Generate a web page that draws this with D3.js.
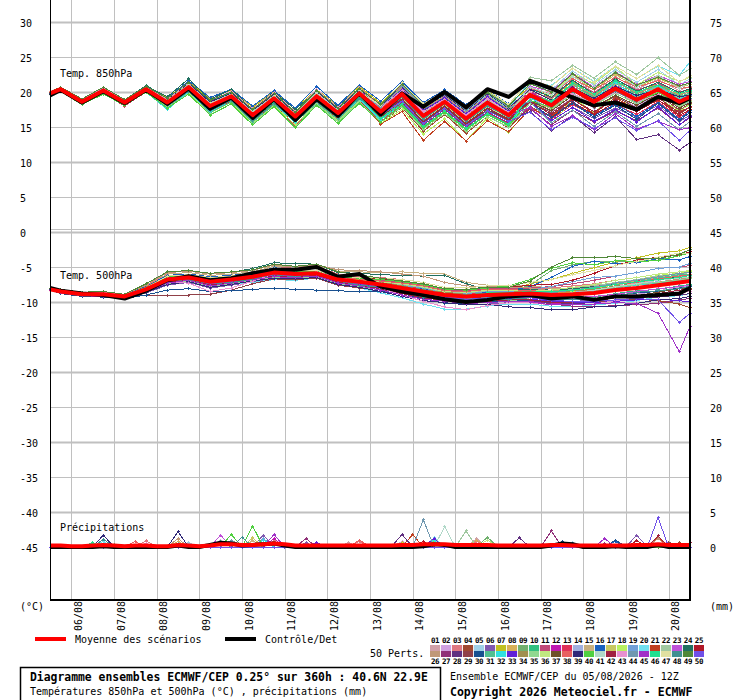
<!DOCTYPE html>
<html><head><meta charset="utf-8">
<script src="https://cdn.jsdelivr.net/npm/d3@7"></script>
<style>
html,body{margin:0;padding:0;background:#fff;}
svg text{font-family:"DejaVu Sans Mono",monospace;fill:#000;}
</style></head><body>
<svg id="c" width="740" height="700"></svg>
<script>
// ---- time axes (hours after 05/08/2026 12Z) ----
const HOURS = [0,6,18,30,42,54,66,78,90,102,114,126,138,150,162,174,186,198,210,222,234,246,258,270,282,294,306,318,330,342,354,360];
const HOURS6 = [0,6,12,18,24,30,36,42,48,54,60,66,72,78,84,90,96,102,108,114,120,126,132,138,144,150,156,162,168,174,180,186,192,198,204,210,216,222,228,234,240,246,252,258,264,270,276,282,288,294,300,306,312,318,324,330,336,342,348,354,360];
const DAY_HOURS = [12,36,60,84,108,132,156,180,204,228,252,276,300,324,348];
const DAY_LABELS = ["06/08","07/08","08/08","09/08","10/08","11/08","12/08","13/08","14/08","15/08","16/08","17/08","18/08","19/08","20/08"];
const LEFT_TICKS = [30,25,20,15,10,5,0,-5,-10,-15,-20,-25,-30,-35,-40,-45];
const RIGHT_TICKS = [75,70,65,60,55,50,45,40,35,30,25,20,15,10,5,0];

// ---- ensemble mean and control (°C) ----
const MEAN850 = [19.8,20.4,18.6,20.2,18.5,20.4,18.5,20.7,18.0,19.4,16.7,19.1,16.5,19.4,17.0,19.8,17.2,19.7,16.6,18.6,16.2,18.5,16.7,19.6,18.1,20.4,18.6,20.5,18.9,20.4,18.6,19.3];
const CTRL850 = [19.5,20.3,18.5,20.1,18.4,20.3,18.3,20.5,17.6,19.2,16.3,19.0,16.0,19.0,16.6,19.8,16.8,19.8,17.9,20.0,17.8,20.4,19.3,21.6,20.5,19.2,18.1,18.5,17.5,19.3,18.4,19.1];
const MEAN500 = [-8.2,-8.5,-8.9,-8.9,-9.2,-8.2,-6.8,-6.5,-7.1,-6.8,-6.4,-5.8,-6.0,-5.9,-6.8,-7.1,-7.5,-8.0,-8.5,-9.0,-9.2,-9.0,-8.9,-8.8,-9.0,-8.9,-8.7,-8.3,-8.0,-7.6,-7.2,-7.0];
const CTRL500 = [-8.0,-8.4,-8.8,-9.0,-9.5,-8.4,-6.9,-6.3,-6.9,-6.6,-5.9,-5.4,-5.4,-5.0,-6.4,-6.0,-7.8,-8.5,-9.0,-9.6,-10.0,-9.7,-9.2,-9.0,-9.5,-9.2,-9.7,-9.2,-9.2,-9.0,-8.8,-8.0];
// precipitation (mm per 6h), on HOURS6
const MEAN_PR = [0.2,0.2,0.1,0.1,0.2,0.3,0.2,0.1,0.2,0.2,0.1,0.1,0.3,0.2,0.1,0.2,0.4,0.4,0.3,0.3,0.4,0.5,0.4,0.2,0.2,0.2,0.2,0.2,0.2,0.2,0.2,0.2,0.2,0.3,0.3,0.4,0.4,0.4,0.3,0.3,0.3,0.3,0.2,0.2,0.2,0.2,0.2,0.3,0.3,0.2,0.2,0.2,0.2,0.2,0.2,0.3,0.3,0.4,0.3,0.3,0.3];
const CTRL_PR = [0,0,0,0,0,0.1,0,0,0,0,0,0,0.2,0,0,0.3,0.6,0.5,0.2,0.3,0.4,0.5,0.2,0,0,0,0,0,0,0,0,0,0,0,0,0.1,0.4,0.3,0,0,0,0,0,0,0,0,0,0.2,0.5,0.4,0,0,0,0.1,0,0,0,0.3,0,0,0];

// ---- 50 perturbed members, temperature 850 hPa (tenths of °C), on HOURS ----
const T850 = [
[199,205,188,204,188,206,189,211,185,199,173,195,170,200,174,203,180,207,177,195,172,197,176,208,195,220,199,222,204,218,202,208],
[197,203,184,200,184,202,181,203,175,189,161,187,160,188,166,193,166,189,157,179,154,175,160,187,171,192,177,194,179,196,174,183],
[199,206,189,205,189,207,190,213,188,201,176,199,172,203,178,206,182,209,179,197,174,199,178,212,199,225,205,227,209,222,208,213],
[197,202,183,199,181,201,179,199,170,185,156,182,153,184,159,189,157,178,144,168,141,165,149,179,166,190,169,192,173,189,168,179],
[198,205,187,203,187,205,187,210,183,196,171,194,168,198,172,201,176,202,172,190,167,191,171,211,203,230,210,232,214,232,210,219],
[198,203,185,201,183,203,183,204,177,192,163,188,162,192,166,195,166,187,155,177,150,175,158,179,159,178,162,177,164,181,158,167],
[200,207,190,207,189,208,192,215,190,203,178,201,177,203,181,208,184,212,182,200,177,202,181,208,191,215,195,217,199,212,197,203],
[198,204,186,203,184,204,186,209,182,195,170,193,166,196,173,200,175,200,170,188,165,189,169,200,186,210,190,212,194,207,192,198],
[197,203,184,200,182,202,180,201,172,187,158,184,157,185,163,190,166,192,160,182,157,179,163,198,187,213,193,215,197,210,195,201],
[199,205,188,205,187,206,189,212,186,199,174,196,171,201,175,204,179,205,175,193,170,195,174,198,177,199,180,201,184,197,182,188],
[198,204,186,201,185,205,184,205,178,193,164,189,164,191,168,196,169,194,162,184,159,181,165,200,192,216,199,218,203,212,200,204],
[199,205,187,203,187,205,187,210,184,197,172,195,168,199,174,202,177,203,173,191,168,192,172,200,184,208,188,210,192,205,190,196],
[196,201,182,198,180,200,177,197,168,183,154,179,151,183,158,185,158,182,149,172,146,170,154,178,161,182,167,182,168,186,164,173],
[199,205,188,204,186,206,186,207,181,193,167,192,164,194,171,198,173,199,169,187,164,188,168,192,176,197,177,193,182,196,178,186],
[198,203,185,201,183,203,182,203,174,189,160,186,159,187,165,192,163,185,153,175,150,171,156,188,176,198,182,198,184,201,180,188],
[199,206,189,206,188,207,191,216,192,204,180,202,177,208,181,210,187,215,185,203,182,203,183,194,166,186,166,183,165,185,161,173],
[198,204,187,202,184,204,185,206,179,194,165,190,165,193,168,197,172,198,168,186,163,187,167,205,197,223,203,225,207,220,206,211],
[197,203,184,199,183,202,179,199,170,185,156,181,153,185,159,188,155,175,140,162,130,163,142,178,151,192,171,195,175,192,173,182],
[198,205,187,204,186,205,186,209,182,195,170,193,166,197,172,200,172,195,163,185,160,182,166,196,183,207,187,209,191,204,189,195],
[199,205,188,205,187,206,188,210,184,196,171,194,168,198,172,201,178,207,177,195,172,197,176,216,209,234,215,237,219,237,224,243],
[197,202,183,199,181,201,180,200,171,187,157,183,156,187,162,189,154,172,131,158,130,159,143,176,165,190,169,192,174,188,172,178],
[200,206,189,206,188,207,189,212,186,198,173,196,170,200,174,203,182,211,181,199,176,201,180,221,216,238,220,243,225,249,224,233],
[198,203,185,202,184,203,185,208,181,194,169,192,165,196,171,199,175,201,171,189,166,190,170,208,201,227,207,229,211,224,211,215],
[200,207,190,207,189,209,193,219,189,204,175,200,175,202,179,206,179,203,173,191,168,192,172,205,193,217,197,219,201,214,199,205],
[197,203,184,201,183,202,182,203,176,191,162,187,162,189,166,194,167,191,159,181,156,178,162,184,164,185,168,185,172,189,166,175],
[198,205,187,204,186,205,188,212,186,198,174,197,170,201,176,204,180,206,176,194,171,195,175,203,190,212,195,214,199,208,196,200],
[198,204,186,201,185,204,183,203,175,190,161,186,161,188,165,193,163,185,153,175,150,171,156,176,153,174,157,173,159,177,153,163],
[197,203,184,200,182,202,181,202,174,189,160,185,160,187,164,192,165,189,157,179,154,175,160,172,145,166,142,165,132,139,117,128],
[198,205,187,202,186,205,184,205,177,192,163,188,163,190,167,195,169,193,161,183,158,180,164,187,170,191,178,194,177,197,174,184],
[198,204,187,202,185,205,187,210,184,197,172,195,168,199,174,202,175,199,169,187,164,188,168,186,163,184,164,181,161,184,159,171],
[197,202,183,199,181,201,179,200,171,186,157,182,157,184,161,189,162,187,155,177,152,174,158,194,185,211,191,213,195,208,193,199],
[196,201,182,197,181,200,175,200,172,188,159,184,156,188,163,190,160,183,151,173,148,169,154,190,183,207,190,214,192,209,190,197],
[198,205,187,203,187,205,187,209,183,195,170,193,166,197,172,200,177,204,174,192,169,193,173,186,159,178,158,175,157,179,153,165],
[198,203,185,200,184,203,183,204,176,191,162,187,162,189,166,194,169,195,163,185,160,182,166,196,182,203,188,203,189,205,185,193],
[197,202,183,198,182,201,178,197,168,183,154,179,150,183,157,186,157,179,147,169,144,165,150,184,174,198,181,198,183,200,179,187],
[199,205,188,204,188,206,187,208,182,194,169,192,165,196,171,199,170,192,160,182,157,179,163,206,195,226,212,236,210,228,215,221],
[198,203,185,201,183,203,182,202,174,189,160,185,160,187,164,192,164,188,156,178,153,175,159,188,173,195,179,195,181,198,177,185],
[199,205,187,204,186,205,187,210,183,196,171,194,167,198,173,201,176,201,171,189,166,190,170,205,197,219,203,221,207,216,205,207],
[198,204,186,203,185,204,188,212,186,198,174,196,171,201,175,204,181,208,178,196,173,198,177,204,188,206,191,208,195,203,193,196],
[196,201,182,197,181,200,177,197,167,183,153,179,149,181,155,184,157,181,149,171,146,168,152,188,178,202,182,204,186,199,184,190],
[199,205,188,204,187,207,188,211,184,197,172,195,168,199,174,202,175,200,170,188,165,189,169,207,196,222,206,229,207,224,205,214],
[197,203,184,200,184,202,183,204,177,192,163,188,163,190,167,195,167,190,158,180,155,177,161,186,168,189,172,189,175,192,170,179],
[199,206,189,206,188,207,190,214,188,201,176,199,172,203,178,206,178,202,172,190,167,191,171,199,180,198,183,200,186,196,184,190],
[198,204,186,203,185,204,186,208,181,194,169,192,165,196,171,199,178,209,179,197,174,199,178,186,156,174,151,172,151,169,146,158],
[198,203,185,201,185,203,184,205,178,193,164,189,164,191,168,196,171,197,167,185,162,186,166,178,151,166,146,169,147,158,146,149],
[199,205,188,203,187,206,183,203,175,190,161,186,161,188,165,193,162,183,151,173,148,169,154,195,187,213,197,216,200,210,198,202],
[198,205,187,204,186,205,187,209,183,196,170,193,166,197,172,200,181,213,183,201,178,203,182,218,208,234,214,237,219,238,214,223],
[197,203,184,199,183,202,181,201,173,188,159,184,159,186,163,191,167,193,161,183,158,180,164,193,179,201,185,201,187,204,183,191],
[200,207,190,207,189,208,191,214,188,200,175,198,171,202,177,205,182,211,181,199,178,199,180,212,200,226,205,228,210,221,209,213],
[198,203,185,202,184,203,185,208,180,193,168,191,164,195,170,198,167,187,155,177,152,173,158,171,146,164,148,163,145,159,131,145]
];

// ---- 50 perturbed members, temperature 500 hPa (tenths of °C), on HOURS ----
const T500 = [
[-82,-84,-88,-87,-91,-79,-63,-61,-65,-63,-60,-52,-55,-52,-63,-67,-69,-72,-76,-83,-84,-81,-81,-83,-84,-82,-79,-75,-73,-68,-64,-62],
[-83,-87,-91,-92,-94,-86,-74,-70,-78,-74,-69,-65,-66,-64,-74,-78,-81,-85,-89,-96,-97,-94,-94,-94,-97,-95,-95,-90,-89,-84,-79,-78],
[-81,-83,-86,-87,-90,-77,-60,-58,-62,-60,-57,-49,-52,-49,-60,-64,-65,-68,-72,-79,-80,-77,-77,-80,-80,-77,-74,-69,-65,-60,-57,-55],
[-82,-86,-90,-91,-93,-84,-71,-67,-75,-71,-66,-62,-63,-61,-71,-75,-80,-87,-93,-99,-100,-97,-98,-97,-100,-101,-100,-97,-96,-98,-103,-108],
[-82,-84,-88,-89,-91,-80,-65,-63,-67,-65,-62,-54,-57,-57,-65,-67,-71,-77,-80,-86,-89,-85,-85,-84,-85,-83,-83,-78,-74,-71,-68,-65],
[-83,-88,-92,-93,-95,-87,-76,-72,-80,-76,-71,-67,-68,-66,-76,-80,-85,-92,-98,-101,-104,-103,-101,-99,-100,-100,-96,-93,-91,-86,-81,-80],
[-82,-85,-88,-90,-92,-81,-66,-64,-68,-66,-63,-55,-58,-58,-66,-68,-71,-74,-78,-85,-86,-83,-83,-74,-68,-59,-51,-43,-37,-30,-27,-22],
[-81,-83,-87,-86,-90,-78,-62,-60,-64,-62,-59,-51,-54,-51,-62,-66,-67,-70,-74,-81,-82,-79,-79,-82,-83,-80,-77,-74,-70,-65,-62,-60],
[-82,-86,-90,-89,-94,-83,-70,-66,-74,-70,-65,-61,-62,-60,-70,-74,-75,-77,-81,-88,-89,-86,-86,-76,-55,-47,-42,-43,-42,-40,-34,-30],
[-82,-85,-90,-88,-92,-84,-72,-68,-76,-72,-67,-63,-64,-62,-72,-76,-80,-86,-92,-95,-98,-97,-95,-94,-95,-93,-93,-88,-84,-82,-77,-75],
[-82,-84,-88,-87,-91,-80,-64,-62,-66,-64,-61,-53,-56,-56,-64,-66,-69,-72,-76,-83,-84,-81,-81,-80,-78,-74,-69,-63,-58,-52,-50,-48],
[-83,-87,-91,-92,-94,-85,-73,-69,-77,-73,-68,-64,-65,-63,-73,-77,-83,-90,-96,-99,-102,-101,-99,-99,-102,-102,-101,-98,-96,-91,-86,-85],
[-82,-85,-89,-88,-93,-82,-67,-65,-69,-67,-64,-56,-59,-59,-67,-69,-73,-77,-81,-88,-89,-86,-86,-83,-84,-81,-78,-73,-69,-66,-63,-60],
[-82,-84,-88,-88,-92,-83,-71,-67,-75,-71,-66,-62,-63,-61,-71,-75,-78,-82,-86,-93,-94,-91,-91,-88,-89,-86,-83,-78,-74,-71,-68,-65],
[-82,-86,-90,-89,-93,-79,-60,-58,-62,-60,-57,-49,-50,-48,-56,-57,-58,-57,-59,-60,-72,-76,-77,-77,-80,-80,-76,-73,-71,-65,-62,-60],
[-81,-83,-87,-86,-90,-78,-62,-60,-64,-62,-59,-51,-54,-51,-62,-66,-70,-74,-81,-85,-86,-86,-84,-78,-65,-49,-42,-45,-44,-38,-40,-35],
[-82,-85,-90,-88,-92,-82,-68,-66,-70,-68,-65,-57,-60,-60,-68,-70,-77,-83,-89,-92,-95,-94,-92,-88,-88,-85,-81,-75,-71,-66,-63,-60],
[-83,-87,-91,-92,-94,-85,-72,-68,-76,-72,-67,-63,-64,-62,-72,-76,-81,-88,-94,-97,-100,-99,-97,-91,-90,-85,-79,-73,-68,-62,-59,-56],
[-82,-84,-88,-89,-91,-81,-66,-64,-68,-66,-63,-55,-58,-58,-66,-68,-72,-76,-80,-87,-88,-85,-85,-82,-78,-71,-65,-63,-58,-52,-50,-45],
[-82,-86,-90,-91,-93,-85,-74,-70,-78,-74,-72,-68,-69,-66,-76,-80,-87,-94,-103,-110,-110,-106,-103,-103,-106,-107,-104,-102,-98,-93,-91,-88],
[-82,-85,-88,-90,-92,-80,-65,-63,-67,-65,-62,-54,-57,-57,-65,-67,-72,-78,-84,-87,-90,-89,-87,-84,-84,-81,-77,-72,-68,-63,-60,-58],
[-82,-84,-88,-87,-91,-82,-68,-64,-72,-68,-63,-59,-60,-58,-68,-72,-72,-75,-79,-86,-87,-84,-84,-84,-84,-81,-77,-72,-68,-63,-60,-58],
[-83,-85,-89,-90,-92,-84,-69,-67,-73,-71,-66,-60,-63,-61,-69,-73,-78,-82,-88,-93,-94,-93,-93,-91,-94,-94,-92,-89,-85,-81,-78,-76],
[-81,-83,-86,-87,-89,-76,-58,-56,-60,-58,-52,-44,-45,-46,-58,-59,-61,-62,-63,-62,-74,-82,-83,-82,-83,-81,-78,-75,-72,-67,-65,-62],
[-82,-85,-90,-88,-92,-80,-64,-62,-66,-64,-61,-53,-56,-56,-64,-66,-67,-70,-74,-81,-82,-79,-79,-76,-75,-69,-59,-48,-40,-36,-33,-28],
[-81,-82,-86,-85,-89,-76,-58,-56,-60,-58,-55,-47,-50,-47,-54,-55,-57,-60,-63,-72,-77,-78,-79,-80,-84,-84,-83,-77,-75,-72,-67,-65],
[-82,-86,-90,-89,-94,-84,-71,-67,-75,-71,-66,-62,-63,-61,-71,-75,-80,-86,-92,-95,-98,-97,-95,-97,-103,-106,-107,-105,-104,-102,-97,-95],
[-82,-85,-89,-90,-91,-84,-73,-69,-77,-73,-68,-64,-65,-63,-73,-77,-83,-90,-96,-99,-102,-101,-99,-98,-101,-102,-101,-97,-95,-93,-90,-88],
[-83,-87,-91,-92,-94,-90,-90,-90,-89,-83,-74,-67,-68,-66,-76,-80,-82,-86,-90,-97,-98,-95,-95,-96,-100,-101,-100,-98,-96,-91,-86,-85],
[-83,-88,-92,-93,-95,-90,-83,-81,-85,-84,-82,-80,-82,-83,-84,-85,-85,-88,-95,-102,-102,-99,-99,-97,-98,-96,-96,-91,-87,-85,-80,-78],
[-82,-84,-88,-87,-91,-81,-66,-64,-68,-66,-63,-55,-58,-58,-66,-68,-74,-80,-86,-89,-92,-91,-89,-86,-86,-83,-80,-75,-71,-66,-61,-60],
[-82,-85,-88,-89,-93,-81,-67,-65,-69,-67,-64,-56,-59,-59,-67,-69,-77,-84,-90,-93,-96,-95,-93,-91,-91,-88,-85,-80,-76,-73,-70,-67],
[-82,-86,-90,-89,-94,-83,-70,-66,-74,-70,-65,-61,-62,-60,-70,-74,-80,-86,-92,-95,-98,-97,-95,-96,-99,-100,-101,-99,-97,-96,-98,-100],
[-81,-83,-87,-86,-90,-79,-63,-61,-65,-63,-60,-52,-55,-55,-63,-65,-71,-77,-83,-86,-89,-88,-86,-85,-86,-84,-82,-77,-74,-69,-66,-64],
[-83,-87,-91,-90,-95,-85,-74,-70,-78,-74,-69,-65,-66,-64,-74,-78,-83,-90,-96,-99,-102,-101,-99,-94,-92,-88,-84,-79,-75,-72,-69,-66],
[-82,-84,-88,-89,-91,-81,-66,-64,-68,-66,-63,-55,-58,-58,-66,-68,-71,-74,-78,-85,-86,-83,-83,-83,-83,-79,-75,-69,-65,-60,-57,-55],
[-82,-86,-90,-91,-92,-84,-72,-68,-76,-72,-67,-63,-64,-62,-72,-76,-79,-83,-87,-94,-95,-92,-92,-93,-97,-97,-96,-93,-91,-86,-81,-80],
[-82,-85,-88,-90,-92,-81,-65,-63,-67,-65,-62,-54,-57,-57,-65,-67,-70,-73,-77,-84,-85,-82,-82,-84,-85,-83,-80,-75,-72,-67,-63,-61],
[-83,-87,-91,-92,-94,-86,-75,-71,-79,-75,-70,-66,-67,-65,-75,-79,-85,-92,-98,-101,-104,-103,-107,-108,-111,-111,-107,-106,-102,-97,-95,-92],
[-82,-84,-88,-87,-91,-80,-64,-62,-66,-64,-61,-53,-56,-56,-64,-66,-68,-71,-75,-82,-83,-80,-77,-68,-52,-44,-47,-41,-42,-41,-34,-30],
[-82,-85,-89,-88,-93,-83,-69,-65,-73,-69,-64,-60,-61,-59,-69,-73,-79,-85,-91,-94,-97,-96,-94,-91,-90,-87,-83,-78,-74,-69,-66,-64],
[-82,-86,-90,-91,-93,-84,-72,-68,-76,-72,-67,-63,-64,-62,-72,-76,-81,-88,-94,-97,-100,-99,-97,-97,-100,-100,-99,-94,-93,-88,-83,-82],
[-81,-83,-87,-86,-90,-81,-72,-73,-85,-80,-70,-60,-60,-57,-65,-70,-80,-90,-99,-107,-111,-105,-101,-101,-104,-104,-103,-98,-94,-92,-87,-85],
[-82,-85,-90,-89,-91,-82,-68,-64,-72,-68,-63,-59,-60,-58,-68,-72,-77,-83,-89,-92,-95,-94,-92,-87,-87,-83,-79,-73,-69,-64,-59,-58],
[-83,-87,-91,-92,-94,-85,-73,-69,-77,-73,-68,-64,-65,-63,-73,-77,-83,-90,-96,-99,-102,-101,-99,-100,-104,-104,-103,-101,-102,-116,-171,-135],
[-82,-84,-88,-89,-91,-81,-68,-66,-70,-68,-65,-57,-60,-60,-68,-70,-74,-78,-82,-89,-90,-87,-87,-85,-85,-83,-80,-75,-71,-68,-65,-62],
[-82,-85,-89,-88,-93,-80,-63,-61,-65,-63,-60,-52,-55,-55,-63,-65,-66,-68,-72,-79,-80,-77,-77,-72,-68,-61,-55,-48,-42,-36,-30,-30],
[-81,-86,-91,-89,-93,-85,-70,-68,-74,-72,-67,-61,-64,-60,-70,-76,-79,-85,-93,-94,-97,-98,-96,-94,-97,-97,-95,-92,-86,-84,-81,-77],
[-81,-82,-86,-85,-89,-74,-57,-55,-59,-57,-54,-46,-49,-46,-57,-61,-66,-70,-74,-81,-82,-79,-79,-70,-50,-37,-37,-35,-38,-38,-32,-25],
[-82,-86,-90,-91,-93,-83,-70,-66,-74,-70,-65,-61,-62,-60,-70,-74,-78,-84,-90,-93,-96,-95,-93,-94,-98,-99,-99,-97,-95,-97,-129,-116]
];

// ---- member precipitation: non-zero 6h amounts [member, hour, mm]; all other steps are 0 ----
const PR_SPIKES = [
[46,24,0.6],[13,24,0.5],[39,30,1.7],[48,30,1.1],[20,30,0.8],[9,36,0.4],[38,48,0.8],[3,54,0.9],[43,54,0.5],
[39,72,2.2],[26,72,1.2],[8,72,0.8],[44,72,0.5],[5,78,0.6],
[23,96,1.7],[10,96,0.8],[2,96,0.9],[40,102,1.8],[9,102,1.0],[44,102,0.9],[48,108,1.4],
[40,114,3.0],[17,114,1.3],[15,114,0.9],[6,120,1.7],[19,120,1.2],[32,120,1.0],[45,126,1.8],[12,126,1.2],[3,126,0.9],
[27,144,1.2],[6,144,0.6],[33,150,0.6],[1,168,0.6],[38,174,1.0],[3,174,0.8],
[28,198,1.8],[2,198,0.8],[7,198,0.6],[17,198,0.5],[21,204,1.8],[44,210,3.9],[25,210,0.8],[33,216,1.2],[12,216,1.0],[20,216,1.3],[32,216,1.0],[7,216,0.9],[41,222,2.9],
[22,234,2.3],[1,240,1.2],[8,240,1.0],[3,240,0.8],[9,246,1.4],[36,246,1.0],
[28,264,1.3],[27,282,2.3],[30,288,0.8],[5,294,0.6],[16,294,0.5],
[45,312,1.2],[27,312,0.5],[30,318,1.0],[16,318,0.8],
[6,330,1.7],[25,330,0.9],[50,342,4.2],[42,342,1.6],[26,342,1.2],[21,342,1.4],[29,348,0.7],[13,348,0.5],[4,354,0.6],[42,360,0.6]
];

const MEMBER_COLORS = ["#d0a0a8","#d0a0e0","#e07880","#a04830","#a0d0e8","#8058b0","#c0c020","#d8b058","#70b070","#30c080","#c04878","#c018b0","#e03058","#a0b0e0","#c8b080","#1860c0","#c8c860","#b8f060","#70a0d8","#70e0f0","#c04020","#a0c8a0","#c050d8","#207060","#b01828",
"#c09878","#903078","#603080","#904048","#185090","#50c090","#30e0e0","#6020d8","#a09050","#90d890","#c0e880","#705028","#e86060","#302878","#50d040","#b0d8c8","#a02040","#e890d0","#7098b0","#a030c8","#20e090","#e0e0a0","#409090","#508838","#7050e8"];
const MEMBER_LABELS = ["01","02","03","04","05","06","07","08","09","10","11","12","13","14","15","16","17","18","19","20","21","22","23","24","25",
"26","27","28","29","30","31","32","33","34","35","36","37","38","39","40","41","42","43","44","45","46","47","48","49","50"];

// ---------------- drawing ----------------
const svg = d3.select('#c');
const x = d3.scaleLinear().domain([0,360]).range([50,690]);
const y = d3.scaleLinear().domain([-45,30]).range([547,22]);   // °C (left axis)
const yR = d3.scaleLinear().domain([0,75]).range([547,22]);    // right axis, mm for precipitation

// vertical day grid + date labels
const gx = svg.append('g').attr('transform','translate(0,600)')
  .call(d3.axisBottom(x).tickValues(DAY_HOURS).tickSize(-600).tickFormat((d,i)=>DAY_LABELS[i]));
gx.select('.domain').remove();
gx.selectAll('.tick line').attr('stroke','#c0c0c0').attr('shape-rendering','crispEdges');
gx.selectAll('.tick text').attr('y',null).attr('dy',null).attr('x',null)
  .attr('text-anchor','start').attr('transform','translate(10,31) rotate(-90)').style('font-size','10px');

// horizontal grid + left labels
const gy = svg.append('g').attr('transform','translate(50,0)')
  .call(d3.axisLeft(y).tickValues(LEFT_TICKS).tickSize(-640).tickFormat(d=>String(d)));
gy.select('.domain').remove();
gy.selectAll('.tick line').attr('stroke','#c0c0c0')
  .attr('stroke-width',d=>(d%10===0)?2:1);
gy.selectAll('.tick text').attr('x',-30).attr('text-anchor','start').attr('dy','0.45em').style('font-size','10px');
// panel separator (double line at 0)
svg.append('line').attr('x1',50).attr('x2',690).attr('y1',y(0)-2.5).attr('y2',y(0)-2.5)
  .attr('stroke','#c0c0c0').attr('stroke-width',1);

// right labels
const gr = svg.append('g').attr('transform','translate(690,0)')
  .call(d3.axisRight(yR).tickValues(RIGHT_TICKS).tickSize(0).tickPadding(20).tickFormat(d=>String(d)));
gr.select('.domain').remove();
gr.selectAll('.tick text').attr('dy','0.45em').attr('text-anchor','start').style('font-size','10px');

// members
const lineT = d3.line().x((d,i)=>x(HOURS[i])).y(d=>y(d/10));
const marks = (vals, hrs, sy) => vals.map((v,i)=>{
  const px = x(hrs[i]), py = sy(v);
  return `M${px-1.5},${py}h3M${px},${py-1.5}v3`;
}).join('');
const prMembers = MEMBER_COLORS.map(()=>HOURS6.map(()=>0));
PR_SPIKES.forEach(([m,h,v])=>{ prMembers[m-1][HOURS6.indexOf(h)] = v; });
const linePR = d3.line().x((d,i)=>x(HOURS6[i])).y(d=>yR(d));

const gm = svg.append('g').attr('fill','none').attr('shape-rendering','crispEdges');
MEMBER_COLORS.forEach((c,m)=>{
  gm.append('path').attr('d',lineT(T850[m])).attr('stroke',c).attr('stroke-width',1);
  gm.append('path').attr('d',marks(T850[m],HOURS,v=>y(v/10))).attr('stroke',c).attr('stroke-width',1);
  gm.append('path').attr('d',lineT(T500[m])).attr('stroke',c).attr('stroke-width',1);
  gm.append('path').attr('d',marks(T500[m],HOURS,v=>y(v/10))).attr('stroke',c).attr('stroke-width',1);
  gm.append('path').attr('d',linePR(prMembers[m])).attr('stroke',c).attr('stroke-width',1);
  gm.append('path').attr('d',marks(prMembers[m],HOURS6,yR)).attr('stroke',c).attr('stroke-width',1);
});

// control (black) then mean (red)
const lineC = d3.line().x((d,i)=>x(HOURS[i])).y(d=>y(d));
const gc = svg.append('g').attr('fill','none').attr('stroke-linejoin','round').attr('stroke-linecap','butt');
gc.append('path').attr('d',lineC(CTRL850)).attr('stroke','#000').attr('stroke-width',4);
gc.append('path').attr('d',lineC(CTRL500)).attr('stroke','#000').attr('stroke-width',4);
gc.append('path').attr('d',linePR(CTRL_PR)).attr('stroke','#000').attr('stroke-width',4);
gc.append('path').attr('d',lineC(MEAN850)).attr('stroke','#ff0000').attr('stroke-width',4);
gc.append('path').attr('d',lineC(MEAN500)).attr('stroke','#ff0000').attr('stroke-width',4);
gc.append('path').attr('d',linePR(MEAN_PR)).attr('stroke','#ff0000').attr('stroke-width',4);

// axis frame lines
svg.append('line').attr('x1',50.5).attr('x2',50.5).attr('y1',0).attr('y2',600).attr('stroke','#000').attr('stroke-width',1);
svg.append('line').attr('x1',690).attr('x2',690).attr('y1',0).attr('y2',601).attr('stroke','#000').attr('stroke-width',2);
svg.append('line').attr('x1',50).attr('x2',691).attr('y1',600).attr('y2',600).attr('stroke','#000').attr('stroke-width',2);

// panel titles
const txt = (t,xx,yy,size,bold)=>svg.append('text').attr('x',xx).attr('y',yy).text(t)
  .style('font-size',size+'px').style('font-weight',bold?'bold':'normal');
txt('Temp. 850hPa',60,77,10);
txt('Temp. 500hPa',60,279,10);
txt('Précipitations',60,531,10);
txt('(°C)',20,610,10);
txt('(mm)',710,610,10);

// legend lines
svg.append('line').attr('x1',35).attr('x2',66).attr('y1',639).attr('y2',639).attr('stroke','#ff0000').attr('stroke-width',4);
txt('Moyenne des scénarios',75,643,10);
svg.append('line').attr('x1',225).attr('x2',256).attr('y1',639).attr('y2',639).attr('stroke','#000').attr('stroke-width',4);
txt('Contrôle/Det',265,643,10);
txt('50 Perts.',370,657,10);

// member colour boxes
const bx = d3.scaleBand().domain(d3.range(25)).range([430,704]).paddingInner(0.08);
MEMBER_COLORS.forEach((c,m)=>{
  const col = m%25, row = Math.floor(m/25);
  svg.append('rect').attr('x',bx(col)).attr('y',row?651:645).attr('width',bx.bandwidth()).attr('height',6).attr('fill',c);
  svg.append('text').attr('x',bx(col)+bx.bandwidth()/2).attr('y',row?664:643)
    .attr('text-anchor','middle').text(MEMBER_LABELS[m])
    .style('font-size','7.5px').style('font-weight','bold').style('letter-spacing','-0.4px');
});

// title box
svg.append('rect').attr('x',20.5).attr('y',667.5).attr('width',420).attr('height',40)
  .attr('fill','none').attr('stroke','#000').attr('stroke-width',1.5);
txt('Diagramme ensembles ECMWF/CEP 0.25° sur 360h : 40.6N 22.9E',30,681,11.4,true);
txt('Températures 850hPa et 500hPa (°C) , précipitations (mm)',30,695,10);
txt('Ensemble ECMWF/CEP du 05/08/2026 - 12Z',450,680,10);
txt('Copyright 2026 Meteociel.fr - ECMWF',450,696,11.5,true);
</script>
</body></html>
